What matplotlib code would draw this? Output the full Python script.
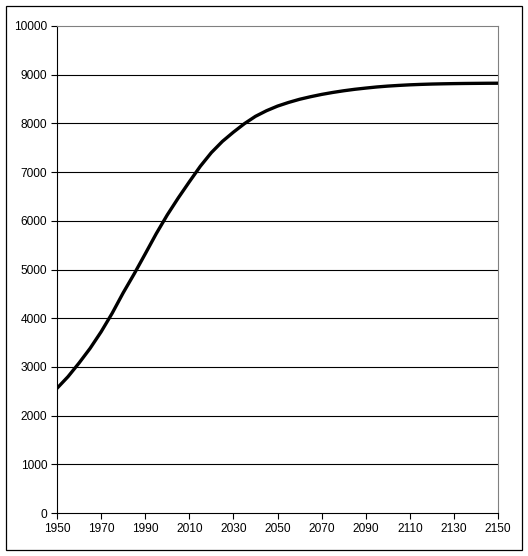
import matplotlib
matplotlib.use("Agg")
import matplotlib.pyplot as plt
from matplotlib.patches import Rectangle

# Jahre und Bevölkerung (Millionen)
years = [1950, 1955, 1960, 1965, 1970, 1975, 1980, 1985, 1990, 1995,
         2000, 2005, 2010, 2015, 2020, 2025, 2030, 2035, 2040, 2045,
         2050, 2055, 2060, 2065, 2070, 2075, 2080, 2085, 2090, 2095,
         2100, 2105, 2110, 2115, 2120, 2125, 2130, 2135, 2140, 2145, 2150]
population = [2560, 2800, 3080, 3380, 3720, 4100, 4520, 4910, 5320, 5735,
              6120, 6470, 6800, 7120, 7400, 7630, 7820, 7995, 8145, 8260,
              8355, 8430, 8495, 8548, 8595, 8635, 8670, 8700, 8725, 8748,
              8766, 8780, 8792, 8801, 8808, 8813, 8817, 8820, 8822, 8824, 8825]
x_ticks = list(range(1950, 2151, 20))
y_ticks = list(range(0, 10001, 1000))

plt.rcParams['font.family'] = ['Liberation Sans', 'DejaVu Sans']

fig = plt.figure(figsize=(5.28, 5.56), dpi=100)
ax = fig.add_axes([57 / 528, 43 / 556, 441 / 528, 487 / 556])

# Gitterlinien
for v in y_ticks[1:-1]:
    ax.axhline(v, color='black', linewidth=0.8, zorder=1)

ax.plot(years, population, color='black', linewidth=2.4, zorder=3)

ax.set_xlim(1950, 2150)
ax.set_ylim(0, 10000)
ax.set_xticks(x_ticks)
ax.set_yticks(y_ticks)
ax.tick_params(axis='both', direction='out', length=4, width=0.8,
               labelsize=8.6, color='black', pad=3)

ax.spines['left'].set_color('black')
ax.spines['bottom'].set_color('black')
ax.spines['top'].set_color('#808080')
ax.spines['right'].set_color('#808080')
for s in ax.spines.values():
    s.set_linewidth(0.8)

# Rahmen um das ganze Diagramm
fig.patches.append(Rectangle((6 / 528, 6 / 556), 516 / 528, 544 / 556,
                             transform=fig.transFigure, fill=False,
                             edgecolor='black', linewidth=0.9))

fig.savefig("out.png", dpi=100)
